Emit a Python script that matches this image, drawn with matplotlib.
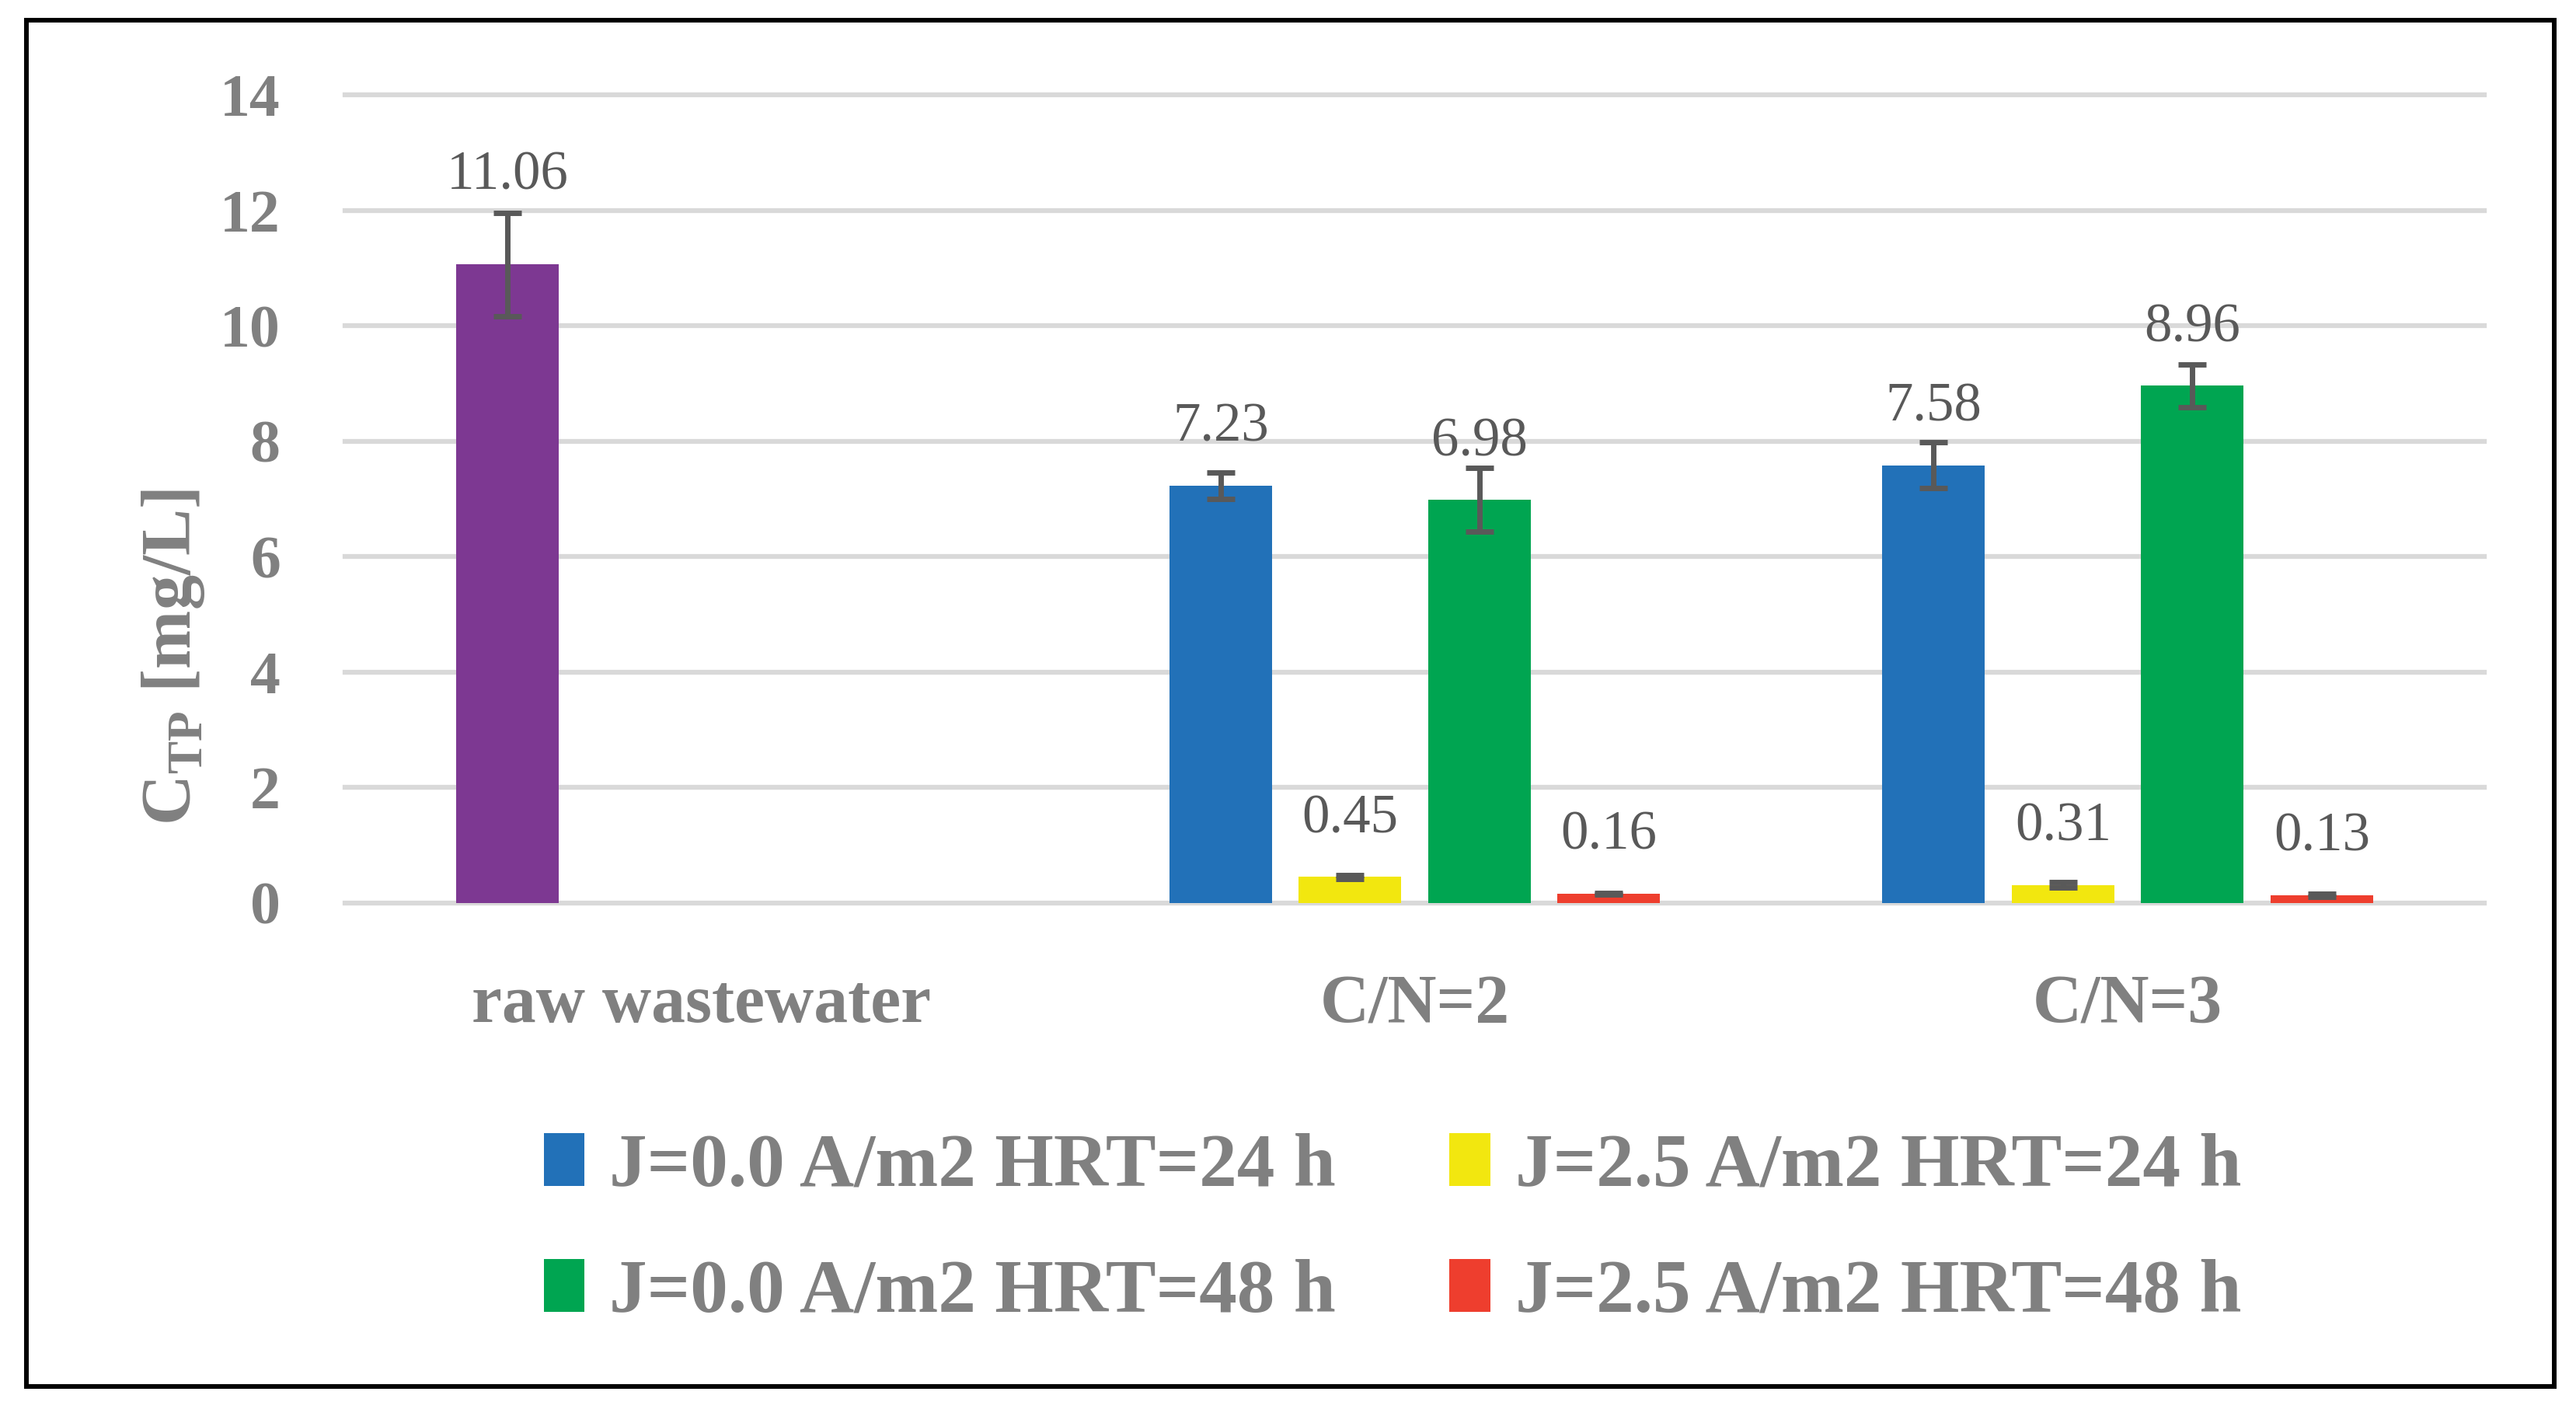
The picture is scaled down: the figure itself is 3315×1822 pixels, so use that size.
import numpy as np
import matplotlib.pyplot as plt
from matplotlib.patches import Patch, Rectangle

plt.rcParams["font.family"] = ["Liberation Serif", "DejaVu Serif"]
plt.rcParams["mathtext.fontset"] = "custom"
plt.rcParams["mathtext.rm"] = "Liberation Serif"
plt.rcParams["mathtext.bf"] = "Liberation Serif:bold"

# ---------- data ----------
categories = ["raw wastewater", "C/N=2", "C/N=3"]
series_names = ["J=0.0 A/m2 HRT=24 h", "J=2.5 A/m2 HRT=24 h",
                "J=0.0 A/m2 HRT=48 h", "J=2.5 A/m2 HRT=48 h"]

j00_h24 = [11.06, 7.23, 7.58]
j25_h24 = [np.nan, 0.45, 0.31]
j00_h48 = [np.nan, 6.98, 8.96]
j25_h48 = [np.nan, 0.16, 0.13]

err_j00_h24 = [0.90, 0.23, 0.40]
err_j25_h24 = [np.nan, 0.035, 0.045]
err_j00_h48 = [np.nan, 0.55, 0.37]
err_j25_h48 = [np.nan, 0.015, 0.03]

values = [j00_h24, j25_h24, j00_h48, j25_h48]
errors = [err_j00_h24, err_j25_h24, err_j00_h48, err_j25_h48]

# ---------- style ----------
series_colors = ["#2271B8", "#F2E70F", "#00A551", "#EE3E2E"]
raw_color = "#7D3892"
err_color = "#595959"
err_light = "#A6A6A6"
tick_gray = "#808080"
label_gray = "#595959"
grid_gray = "#D9D9D9"

bar_w = 0.1438
step = 0.1814

fig = plt.figure(figsize=(33.16, 18.22), dpi=100)
ax = fig.add_axes([0.1339, 0.3625, 0.9641 - 0.1339, 0.9330 - 0.3625])

x = np.arange(len(categories))
for s, (vals, errs) in enumerate(zip(values, errors)):
    vals = np.array(vals, dtype=float)
    errs = np.array(errs, dtype=float)
    ok = ~np.isnan(vals)
    xs = x[ok] + (s - 1.5) * step
    cols = [series_colors[s]] * len(xs)
    if s == 0:
        cols[0] = raw_color  # raw wastewater point
    ax.bar(xs, vals[ok], width=bar_w, color=cols, zorder=2)
    ax.errorbar(xs, vals[ok], yerr=errs[ok], fmt="none", ecolor=err_color,
                elinewidth=5, capsize=13.3, capthick=5, zorder=4)
    if s == 0:
        # upper whisker of the raw wastewater bar is drawn lighter
        ax.vlines(xs[0], vals[ok][0], vals[ok][0] + errs[ok][0],
                  color=err_light, linewidth=5, zorder=3.5)
    for i, (xi, v) in enumerate(zip(xs, vals[ok])):
        off = 70 if (s == 0 and i == 0) else 41
        ax.annotate(f"{v:.2f}", (xi, v), xytext=(0, off), textcoords="offset points",
                    ha="center", va="baseline", fontsize=51, color=label_gray)

ax.set_xlim(-0.5, 2.5)
ax.set_ylim(0, 14)
ax.set_yticks(np.arange(0, 15, 2))
ax.set_xticks(x, categories)
ax.tick_params(axis="y", length=0, pad=60, labelsize=56, labelcolor=tick_gray)
ax.tick_params(axis="x", length=0, pad=66, labelsize=63, labelcolor=tick_gray)
for lab in ax.get_xticklabels() + ax.get_yticklabels():
    lab.set_fontweight("bold")

ax.yaxis.grid(True, color=grid_gray, linewidth=4.5)
for gl in ax.get_ygridlines():
    gl.set_clip_on(False)
ax.set_axisbelow(True)
for sp in ax.spines.values():
    sp.set_visible(False)

ax.set_ylabel(r"C$_{\mathbf{TP}}$ [mg/L]", fontsize=65, fontweight="bold",
              color=tick_gray, va="center")
ax.yaxis.set_label_coords(-0.0803, 0.3035)

handles = [Patch(facecolor=series_colors[k], label=series_names[k]) for k in [0, 2, 1, 3]]
leg = fig.legend(handles=handles, ncol=2, loc="center", bbox_to_anchor=(0.5404, 0.1311),
                 frameon=False, fontsize=70, handlelength=0.54, handleheight=0.7,
                 handletextpad=0.33, columnspacing=1.5, labelspacing=0.75, borderpad=0)
for t in leg.get_texts():
    t.set_color(tick_gray)
    t.set_fontweight("bold")

# outer frame
W, H = 3316, 1822
fig.patches.append(Rectangle((34.5 / W, 1 - 1783.7 / H), (3287 - 34.5) / W, (1783.7 - 26) / H,
                             transform=fig.transFigure, fill=False, edgecolor="black",
                             linewidth=4.3))

fig.savefig("out.png", dpi=100)
